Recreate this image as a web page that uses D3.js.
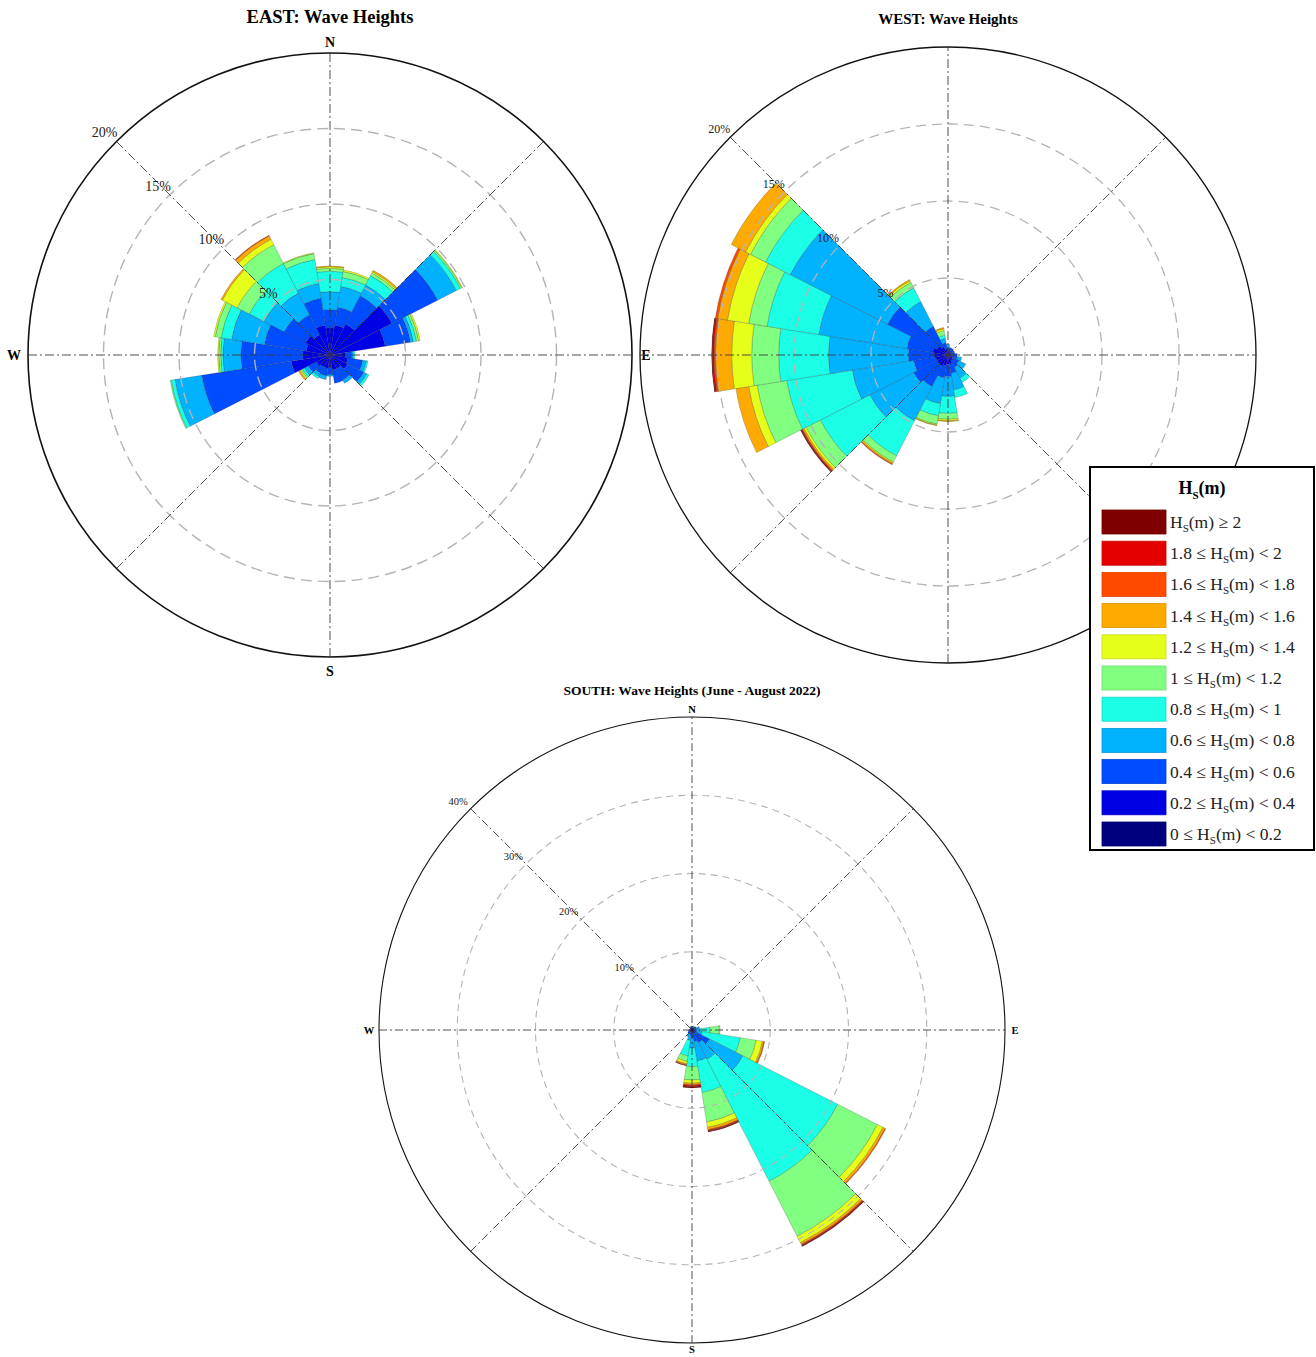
<!DOCTYPE html>
<html>
<head>
<meta charset="utf-8">
<script src="https://cdn.jsdelivr.net/npm/d3@7"></script>
<style>
    body { margin: 0; background: #fff; }
    svg { display: block; font-family: "Liberation Serif", "DejaVu Serif", serif; }
</style>
</head>
<body>
<svg id="chart" width="1316" height="1357"></svg>
<script>
// Sector centres, degrees clockwise from north (18 deg sectors)
const directions = [0, 18, 36, 54, 72, 90, 108, 126, 144, 162, 180, 198, 216, 234, 252, 270, 288, 306, 324, 342];

// Wave height classes, Hs (m), lower bounds
const classLower = [0, 0.2, 0.4, 0.6, 0.8, 1, 1.2, 1.4, 1.6, 1.8, 2];
const classColors = ['#00007f', '#0000e5', '#004cff', '#00b2ff', '#1affe5', '#80ff80',
    '#e5ff1a', '#ffaa00', '#ff4a00', '#e50000', '#7f0000'];

// Cumulative frequency (%) at the top of each height class, one row per direction
const eastCum = [
    [0.15, 1.8, 3.0, 4.2, 5.55, 5.75, 5.85, 5.9],
    [0.15, 2.0, 3.2, 4.6, 5.2, 5.6, 5.7],
    [0.15, 2.3, 4.4, 5.2, 5.9, 6.1, 6.2, 6.3],
    [0.2, 4.6, 8.0, 9.4, 9.7, 9.8, 9.85],
    [0.2, 3.7, 5.4, 5.6, 5.8, 5.95, 6.05],
    [0.15, 1.0, 1.45, 1.55, 1.65],
    [0.15, 1.2, 2.2, 2.45, 2.55],
    [0.15, 1.3, 2.5, 2.75, 2.9],
    [0.15, 1.0, 1.85, 2.1],
    [0.15, 1.0, 1.9],
    [0.15, 0.8, 1.3, 1.4],
    [0.15, 0.9, 1.4, 1.65],
    [0.15, 0.9, 1.35, 1.6, 1.75],
    [0.15, 1.0, 1.6, 1.9, 2.05, 2.15, 2.25, 2.35],
    [0.2, 2.6, 8.6, 10.4, 10.65, 10.72],
    [0.15, 1.8, 5.9, 7.1, 7.25, 7.38, 7.45],
    [0.15, 1.6, 4.4, 6.6, 7.3, 7.7, 7.8],
    [0.15, 1.8, 3.4, 4.9, 6.0, 6.9, 8.0, 8.1],
    [0.15, 1.5, 3.0, 4.6, 6.8, 8.2, 8.6, 8.85, 8.9],
    [0.15, 2.0, 3.8, 4.8, 6.4, 6.8, 6.85]
];

const westCum = [
    [0.03, 0.3, 0.5, 0.7],
    [0.03, 0.3, 0.5],
    [0.03, 0.3, 0.5],
    [0.03, 0.25, 0.45],
    [0.03, 0.25, 0.45],
    [0.03, 0.3, 0.6],
    [0.03, 0.3, 0.6, 0.9],
    [0.03, 0.35, 0.8, 1.3],
    [0.03, 0.4, 0.9, 1.7, 2.0],
    [0.05, 0.6, 1.2, 2.3, 2.8],
    [0.05, 0.6, 1.4, 2.7, 3.8, 4.18, 4.28, 4.33],
    [0.05, 0.7, 1.5, 3.2, 4.0, 4.55, 4.62, 4.65],
    [0.05, 0.8, 2.3, 4.8, 7.35, 7.8, 7.87, 7.95, 8.0],
    [0.05, 0.8, 2.5, 5.7, 9.3, 10.35, 10.5, 10.6, 10.65, 10.7, 10.75],
    [0.05, 0.8, 2.25, 6.3, 10.6, 12.55, 13.1, 13.95],
    [0.05, 0.9, 2.58, 7.77, 11.0, 12.75, 14.05, 15.1, 15.2, 15.3, 15.35],
    [0.05, 1.0, 2.7, 8.5, 11.9, 13.1, 14.5, 15.15, 15.3],
    [0.05, 0.8, 4.4, 11.5, 13.3, 14.4, 14.75, 15.8],
    [0.05, 0.6, 2.1, 3.9, 4.9, 5.3, 5.42, 5.5],
    [0.05, 0.4, 0.8, 1.1, 1.3, 1.6, 1.72, 1.8]
];

const southCum = [
    [0.1, 0.3, 0.5],
    [0.1, 0.3, 0.5],
    [0.1, 0.3, 0.5],
    [0.1, 0.3, 0.6],
    [0.1, 0.3, 0.6, 1.0],
    [0.1, 0.3, 0.6, 1.0, 2.3, 3.5, 3.6],
    [0.1, 0.3, 0.6, 1.3, 6.25, 8.3, 9.1, 9.3, 9.4],
    [0.1, 0.5, 2.5, 7.3, 20.9, 26.6, 27.4, 27.7, 27.8],
    [0.1, 0.5, 1.8, 4.2, 21.7, 29.6, 30.5, 30.75, 30.85, 30.95, 31.05],
    [0.1, 0.4, 1.5, 4.0, 8.1, 11.9, 12.6, 12.9, 13.0, 13.1, 13.2],
    [0.1, 0.4, 1.0, 2.3, 4.7, 6.4, 6.8, 7.0, 7.1, 7.25, 7.4],
    [0.1, 0.3, 0.7, 1.35, 3.37, 4.05, 4.35, 4.5, 4.58, 4.63],
    [0.1, 0.3, 0.6, 1.0],
    [0.1, 0.3, 0.6],
    [0.1, 0.3, 0.5],
    [0.1, 0.3, 0.4],
    [0.1, 0.2, 0.3],
    [0.1, 0.2, 0.3],
    [0.1, 0.2, 0.4],
    [0.1, 0.3, 0.5]
];

const eastTicks = [5, 10, 15, 20];
const westTicks = [5, 10, 15, 20];
const southTicks = [10, 20, 30, 40];


/**
 * Stacked wave rose
 */
function WaveRose(svg, data, ticks, config) {
    this.svg = svg;
    this.data = data;
    this.ticks = ticks;
    this.config = config;

    this.deg2rad = function (deg) {
        return deg * Math.PI / 180;
    };

    this.init = function () {
        let me = this;
        let c = me.config;
        let R = c.radius;

        me.scale = d3.scaleLinear()
            .domain([0, d3.max(me.ticks)])
            .range([0, R]);

        let g = me.svg.append('g')
            .attr('transform', 'translate(' + c.cx + ',' + c.cy + ')');

        // flatten into one ring segment per class and direction
        let segs = [];
        me.data.forEach((cum, i) => {
            cum.forEach((v, k) => {
                segs.push({dir: directions[i], r0: k ? cum[k - 1] : 0, r1: v, k: k});
            });
        });

        let arc = d3.arc()
            .innerRadius(d => me.scale(d.r0))
            .outerRadius(d => me.scale(d.r1))
            .startAngle(d => me.deg2rad(d.dir - 9))
            .endAngle(d => me.deg2rad(d.dir + 9));

        g.append('g').attr('class', 'bars')
            .selectAll('path')
            .data(segs)
            .enter().append('path')
            .attr('d', arc)
            .attr('fill', d => classColors[d.k])
            .attr('stroke', '#222')
            .attr('stroke-opacity', 0.55)
            .attr('stroke-width', 0.4);

        // dashed rings
        g.append('g').selectAll('circle')
            .data(me.ticks.slice(0, -1))
            .enter().append('circle')
            .attr('r', d => me.scale(d))
            .attr('fill', 'none')
            .attr('stroke', '#b4b4b4')
            .attr('stroke-width', c.ringWidth)
            .attr('stroke-dasharray', c.ringDash);

        // dash-dot axes
        g.append('g').selectAll('line')
            .data([0, 45, 90, 135])
            .enter().append('line')
            .attr('x1', d => -R * Math.sin(me.deg2rad(d)))
            .attr('y1', d => R * Math.cos(me.deg2rad(d)))
            .attr('x2', d => R * Math.sin(me.deg2rad(d)))
            .attr('y2', d => -R * Math.cos(me.deg2rad(d)))
            .attr('stroke', '#3a3a3a')
            .attr('stroke-width', 0.9)
            .attr('stroke-dasharray', c.axisDash);

        // outer ring
        g.append('circle')
            .attr('r', R)
            .attr('fill', 'none')
            .attr('stroke', '#111')
            .attr('stroke-width', c.outerWidth);

        // percentage labels along the NW diagonal
        g.append('g').selectAll('text')
            .data(me.ticks)
            .enter().append('text')
            .attr('x', d => -me.scale(d) * Math.SQRT1_2 + c.labelDx)
            .attr('y', d => -me.scale(d) * Math.SQRT1_2 - 4)
            .attr('text-anchor', 'end')
            .attr('font-size', c.labelSize)
            .attr('fill', '#222')
            .text(d => d + '%');

        // compass letters
        if (c.compass) {
            let k = c.compass;
            let pts = [['N', 0, -R - k.top], ['E', R + k.side, k.mid], ['S', 0, R + k.bottom], ['W', -R - k.side, k.mid]];
            g.append('g').selectAll('text')
                .data(pts)
                .enter().append('text')
                .attr('x', d => d[1])
                .attr('y', d => d[2])
                .attr('text-anchor', 'middle')
                .attr('font-weight', 'bold')
                .attr('font-size', k.size)
                .text(d => d[0]);
        }

        // title
        me.svg.append('text')
            .attr('x', c.cx)
            .attr('y', c.titleY)
            .attr('text-anchor', 'middle')
            .attr('font-weight', 'bold')
            .attr('font-size', c.titleSize)
            .text(c.title);
    };

    this.init();
}


let svg = d3.select('#chart');

new WaveRose(svg, eastCum, eastTicks, {
    cx: 330, cy: 355, radius: 302,
    title: 'EAST: Wave Heights', titleY: 23, titleSize: 18.5,
    ringWidth: 1.4, ringDash: '11,6', axisDash: '9,3,2,3', outerWidth: 1.6,
    labelSize: 14, labelDx: 1,
    compass: {size: 14, top: 6, side: 14, bottom: 19, mid: 5}
});

new WaveRose(svg, westCum, westTicks, {
    cx: 948, cy: 355, radius: 308,
    title: 'WEST: Wave Heights', titleY: 24, titleSize: 15,
    ringWidth: 1.3, ringDash: '10,6', axisDash: '9,3,2,3', outerWidth: 1.3,
    labelSize: 12, labelDx: 0,
    compass: null
});

new WaveRose(svg, southCum, southTicks, {
    cx: 692, cy: 1030, radius: 313,
    title: 'SOUTH: Wave Heights (June - August 2022)', titleY: 695, titleSize: 13.5,
    ringWidth: 1.1, ringDash: '7,5', axisDash: '8,3,2,3', outerWidth: 1.1,
    labelSize: 10.5, labelDx: -3,
    compass: {size: 10.5, top: 4, side: 10, bottom: 10, mid: 4}
});

// legend
let lg = svg.append('g').attr('class', 'legend');
lg.append('rect')
    .attr('x', 1090).attr('y', 467)
    .attr('width', 224).attr('height', 383)
    .attr('fill', '#fff')
    .attr('stroke', '#000')
    .attr('stroke-width', 2);

let lt = lg.append('text')
    .attr('x', 1202).attr('y', 494)
    .attr('text-anchor', 'middle')
    .attr('font-weight', 'bold')
    .attr('font-size', 18);
lt.append('tspan').text('H');
lt.append('tspan').attr('font-size', 11).attr('dy', 5).text('S');
lt.append('tspan').attr('dy', -5).text('(m)');

let order = d3.range(classLower.length).reverse();
let item = lg.selectAll('g.item')
    .data(order)
    .enter().append('g')
    .attr('class', 'item')
    .attr('transform', (d, i) => 'translate(1102,' + (510 + i * 31.2) + ')');

item.append('rect')
    .attr('width', 64).attr('height', 24)
    .attr('fill', d => classColors[d])
    .attr('stroke', d => d3.color(classColors[d]).darker(0.4))
    .attr('stroke-width', 0.8);

item.each(function (d) {
    let t = d3.select(this).append('text')
        .attr('x', 68).attr('y', 18)
        .attr('font-size', 17.5)
        .attr('fill', '#222');
    let last = d === classLower.length - 1;
    t.append('tspan').text(last ? 'H' : classLower[d] + ' \u2264 H');
    t.append('tspan').attr('font-size', 11).attr('dy', 4).text('S');
    t.append('tspan').attr('dy', -4).text(last ? '(m) \u2265 ' + classLower[d] : '(m) < ' + classLower[d + 1]);
});
</script>
</body>
</html>
